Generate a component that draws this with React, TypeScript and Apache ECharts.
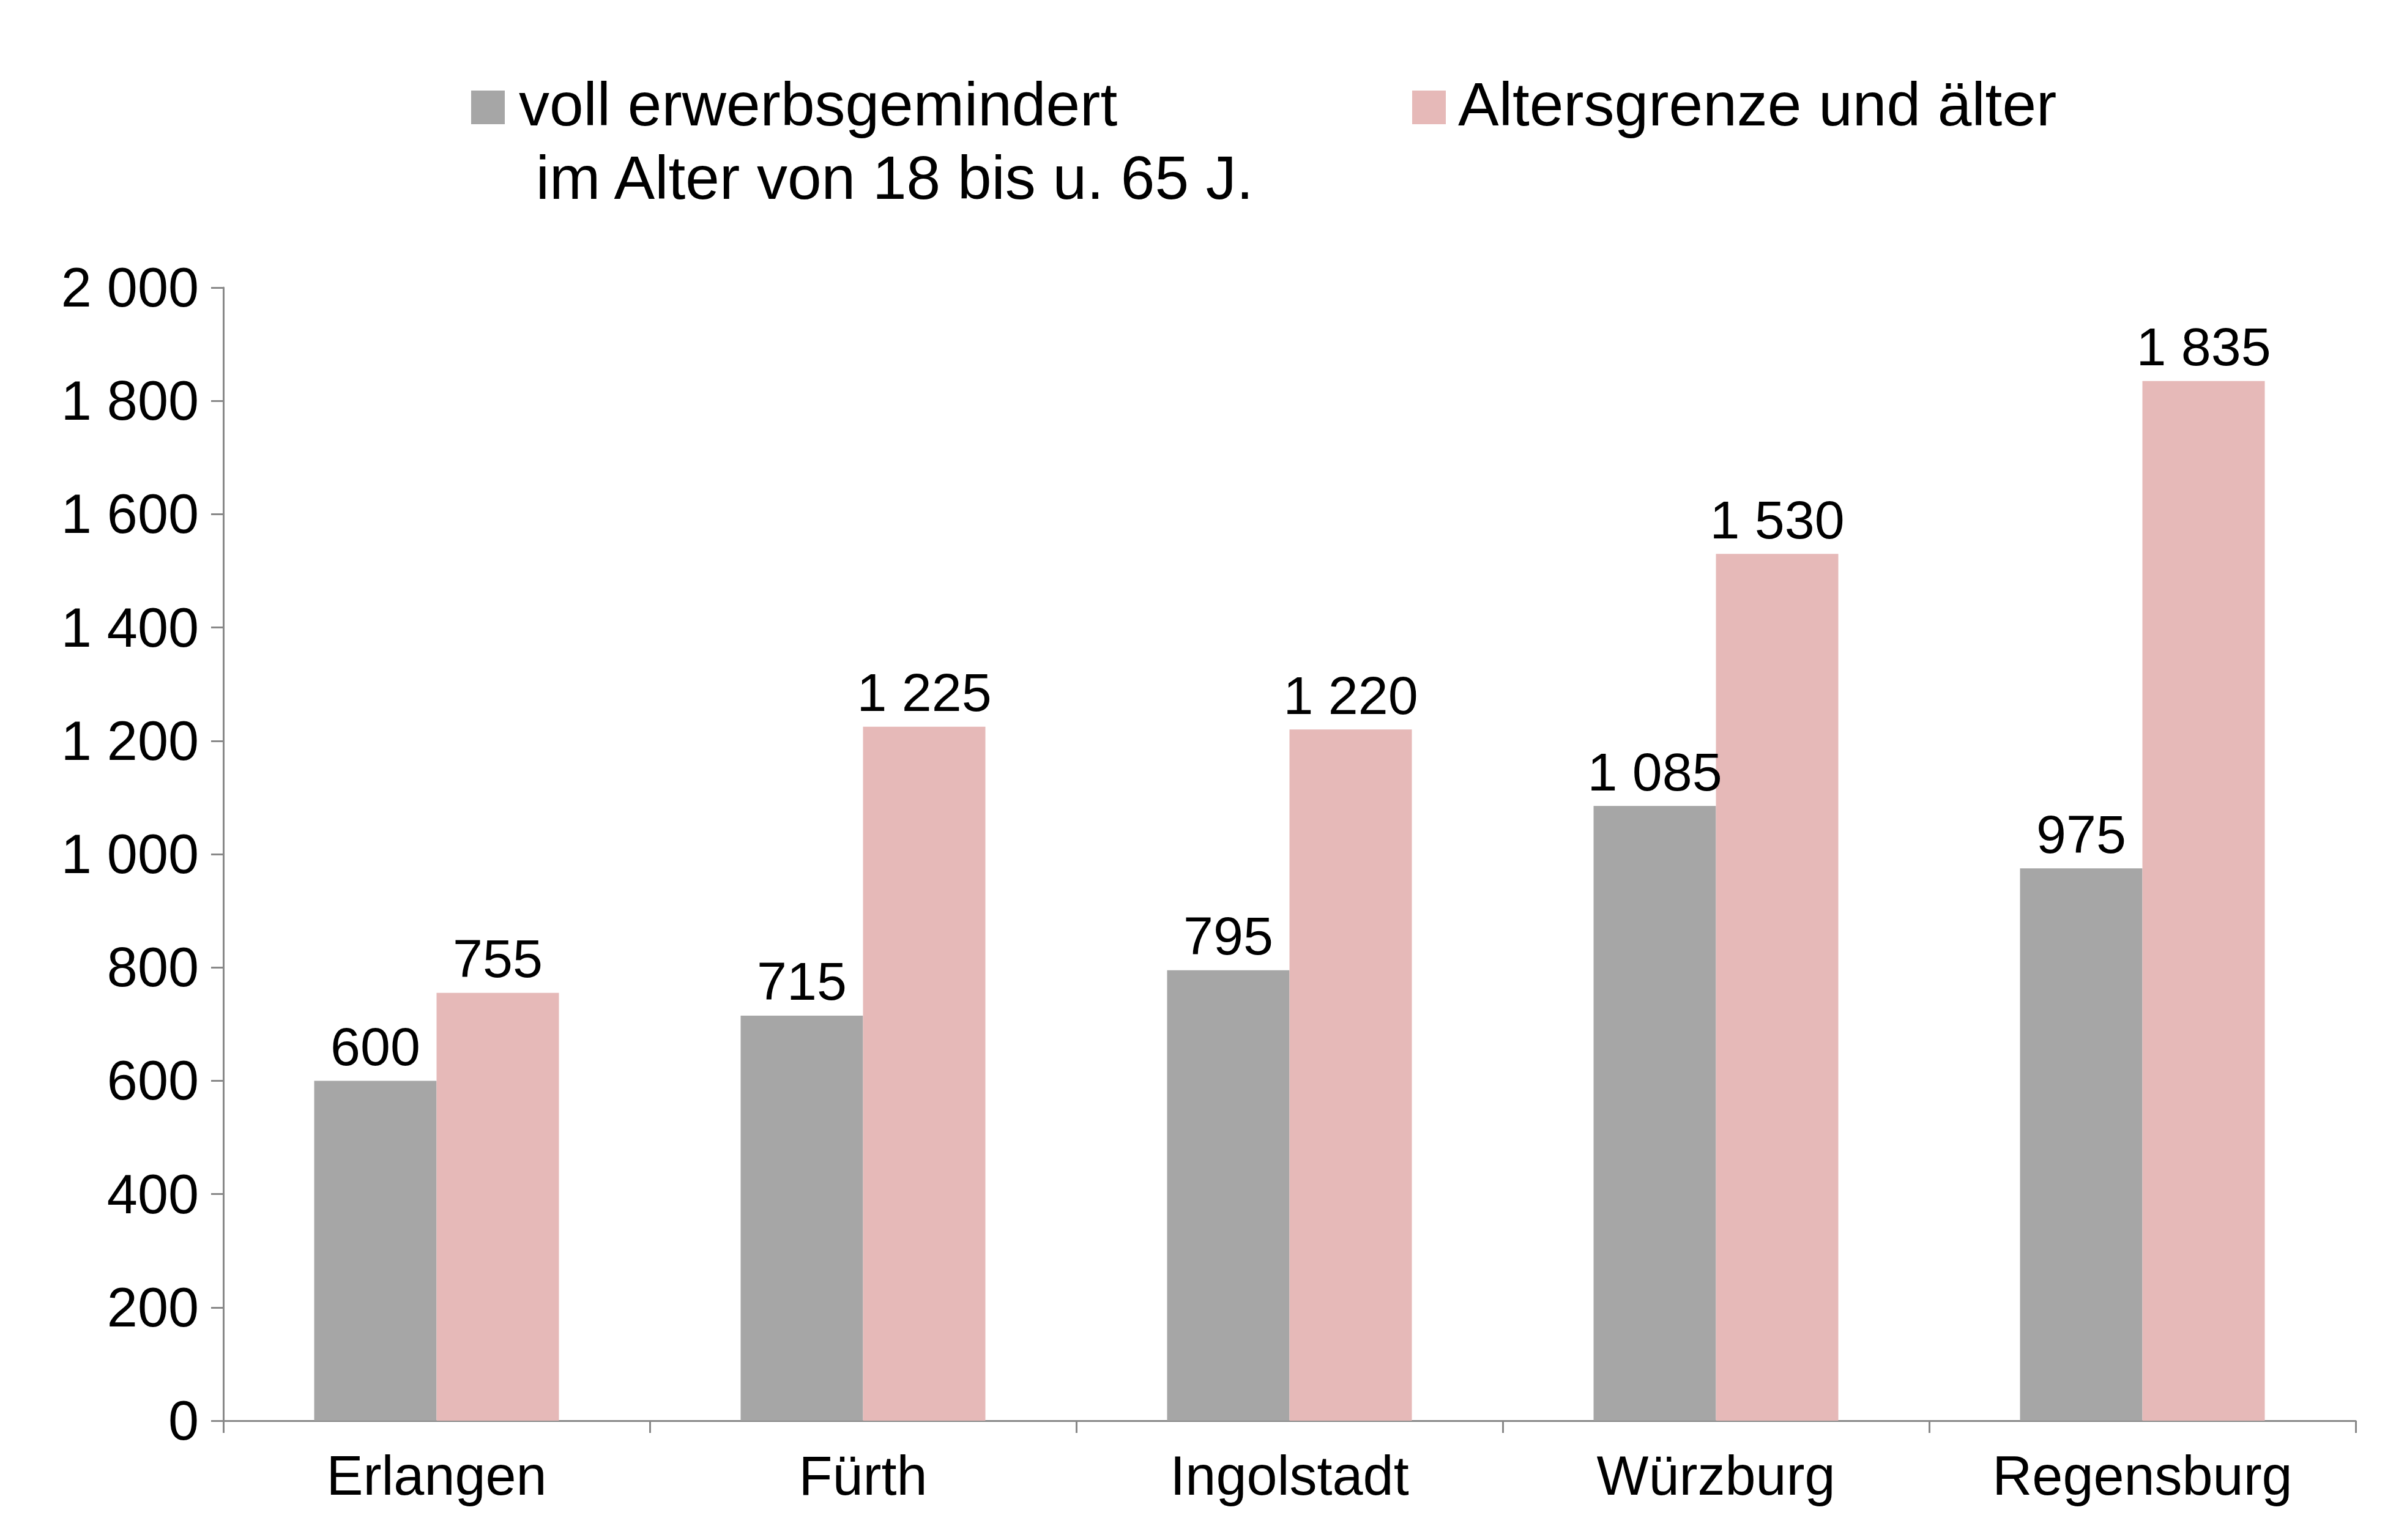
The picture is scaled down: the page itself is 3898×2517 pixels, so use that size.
import { useEffect, useRef } from "react"
import * as echarts from "echarts"

const cities = ["Erlangen", "Fürth", "Ingolstadt", "Würzburg", "Regensburg"]
const voll = [600, 715, 795, 1085, 975]
const alter = [755, 1225, 1220, 1530, 1835]
const legendNames = ["voll erwerbsgemindert", " im Alter von 18 bis u. 65 J.", "Altersgrenze und älter"]

const GRAY = "#A6A6A6"
const PINK = "#E6B9B8"
const FONT = "Liberation Sans, Arial, sans-serif"
const fmt = (v: number) => String(v).replace(/\B(?=(\d{3})+(?!\d))/g, " ")

export default function App() {
  const ref = useRef<HTMLDivElement>(null)
  useEffect(() => {
    if (!ref.current) return
    const chart = echarts.init(ref.current, null, { renderer: "svg" })
    const label = { show: true, position: "top" as const, distance: 12, fontSize: 88, color: "#000", fontFamily: FONT, formatter: (p: any) => fmt(p.value) }
    chart.setOption({
      animation: false,
      textStyle: { fontFamily: FONT },
      grid: { left: 357, right: 40, top: 462, bottom: 187 },
      graphic: [
        { type: "rect", shape: { x: 762, y: 140, width: 55, height: 55 }, style: { fill: GRAY } },
        { type: "text", x: 840, y: 112, style: { text: legendNames[0], fontSize: 100, fill: "#000", fontFamily: FONT } },
        { type: "text", x: 840, y: 232, style: { text: legendNames[1], fontSize: 100, fill: "#000", fontFamily: FONT } },
        { type: "rect", shape: { x: 2300, y: 140, width: 55, height: 55 }, style: { fill: PINK } },
        { type: "text", x: 2375, y: 112, style: { text: legendNames[2], fontSize: 100, fill: "#000", fontFamily: FONT } },
      ],
      xAxis: {
        type: "category",
        data: cities,
        axisLine: { lineStyle: { color: "#888", width: 3 } },
        axisTick: { show: true, length: 20, lineStyle: { color: "#888", width: 3 } },
        axisLabel: { fontSize: 90, color: "#000", margin: 45, fontFamily: FONT },
      },
      yAxis: {
        type: "value",
        min: 0,
        max: 2000,
        interval: 200,
        splitLine: { show: false },
        axisLine: { show: true, lineStyle: { color: "#888", width: 3 } },
        axisTick: { show: true, length: 20, lineStyle: { color: "#888", width: 3 } },
        axisLabel: { fontSize: 90, color: "#000", margin: 40, fontFamily: FONT, formatter: (v: number) => fmt(v) },
      },
      series: [
        { name: legendNames[0], type: "bar", data: voll, barWidth: 200, barGap: "0%", itemStyle: { color: GRAY }, label },
        { name: legendNames[2], type: "bar", data: alter, barWidth: 200, itemStyle: { color: PINK }, label },
      ],
    })
    return () => chart.dispose()
  }, [])
  return <div ref={ref} style={{ width: 3882, height: 2501, background: "#fff" }} />
}
